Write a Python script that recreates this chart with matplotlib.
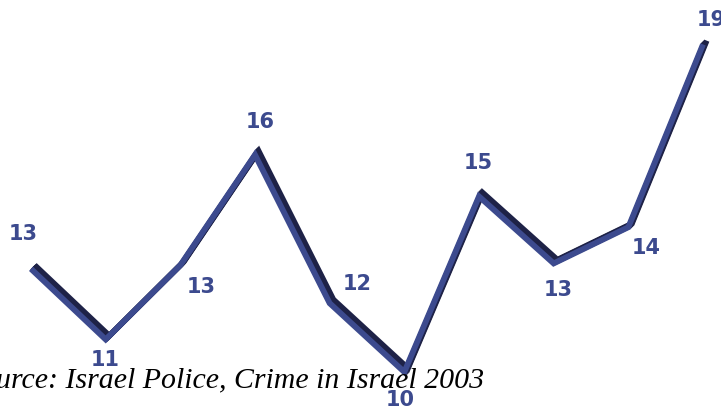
import matplotlib
matplotlib.use("Agg")
import matplotlib.pyplot as plt
from matplotlib.transforms import offset_copy
import numpy as np

values = [12.85, 10.9, 12.95, 16.0, 11.9, 10.0, 14.85, 13.0, 14.0, 19.05]
labels = ["13", "11", "13", "16", "12", "10", "15", "13", "14", "19"]
source = "Source: Israel Police, Crime in Israel 2003"

# label offsets in points (dx, dy) from each vertex
offsets = [(-5.5, 25.5), (0, -14.4), (15, -15), (3.5, 24), (20, 14.4),
           (-2.9, -19.4), (-0.7, 24.5), (2.9, -18.7), (13, -14.4), (5.8, 18)]

face = "#3C4A8E"
dark = "#1E2247"

W, H = 721, 410
fig = plt.figure(figsize=(W / 100, H / 100), dpi=100)
ax = fig.add_axes([0, 0, 1, 1])
ax.set_axis_off()
ax.set_xlim(-0.415, 9.241)
ax.set_ylim(8.978, 20.304)

x = np.arange(len(values))
y = np.array(values, dtype=float)

# source text underneath the line
fig.text(484 / W, 1 - 387 / H, source, ha="right", va="baseline",
         fontfamily="Liberation Serif", fontstyle="italic", fontsize=21.5,
         color="black", zorder=1)

# extrusion (back side) offset up-right, dark
for k in [0.25, 0.5, 0.75, 1.0]:
    tr = offset_copy(ax.transData, fig=fig, x=2.7 * k, y=2.7 * k, units="points")
    ax.plot(x, y, color=dark, lw=4.0, solid_capstyle="butt",
            solid_joinstyle="miter", transform=tr, zorder=3)
# front face
ax.plot(x, y, color=face, lw=4.2, solid_capstyle="butt",
        solid_joinstyle="miter", zorder=4)

for xi, yi, lab, (dx, dy) in zip(x, y, labels, offsets):
    ax.annotate(lab, (xi, yi), xytext=(dx, dy), textcoords="offset points",
                ha="center", va="center", fontsize=15, fontweight="bold",
                color=face, fontfamily="DejaVu Sans", zorder=5)

fig.savefig("out.png", dpi=100)
